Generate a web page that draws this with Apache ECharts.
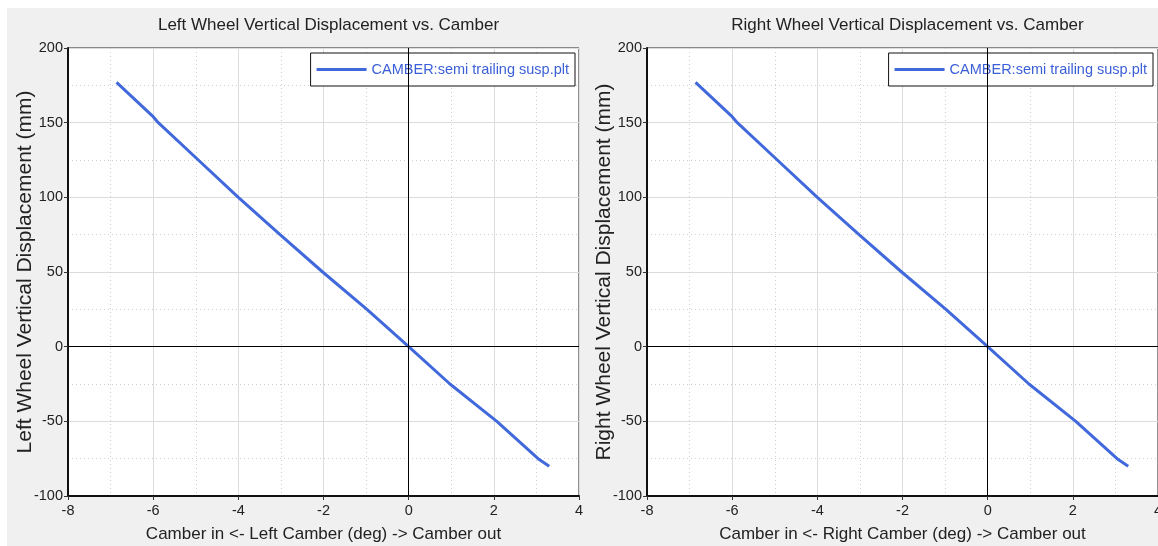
<!DOCTYPE html>
<html>
<head>
<meta charset="utf-8">
<script src="https://cdn.jsdelivr.net/npm/echarts@6/dist/echarts.min.js"></script>
<style>
  html, body { margin: 0; padding: 0; background: #fff; overflow: hidden; }
  #chart { width: 1158px; height: 546px; }
</style>
</head>
<body>
<div id="chart"></div>
<script>
// camber (deg) vs vertical displacement (mm)
const camberLeft = [-6.86, -6.0, -5.88, -4.94, -4.0, -3.02, -2.02, -0.98, 0.0, 0.97, 2.07, 3.04, 3.30]
const dispLeft = [177, 154, 150, 125, 100, 75, 50, 25, 0, -25, -50, -75, -80]
const camberRight = [-6.86, -6.0, -5.88, -4.94, -4.0, -3.02, -2.02, -0.98, 0.0, 0.97, 2.07, 3.04, 3.30]
const dispRight = [177, 154, 150, 125, 100, 75, 50, 25, 0, -25, -50, -75, -80]

const titles = ['Left Wheel Vertical Displacement vs. Camber', 'Right Wheel Vertical Displacement vs. Camber']
const yNames = ['Left Wheel Vertical Displacement (mm)', 'Right Wheel Vertical Displacement (mm)']
const xNames = ['Camber in <- Left Camber (deg) -> Camber out', 'Camber in <- Right Camber (deg) -> Camber out']
const seriesName = 'CAMBER:semi trailing susp.plt'

const FONT = "'Liberation Sans', Arial, sans-serif"
const LINE_COLOR = '#4169dc'

const chart = echarts.init(document.getElementById('chart'))

// plot boxes: left panel 68..579, right panel 647..1158
const panels = [
  { left: 68, right: 579, x: camberLeft, y: dispLeft, legendRight: 583 },
  { left: 647, right: 0, x: camberRight, y: dispRight, legendRight: 5 }
]

const zip = (xs, ys) => xs.map((v, i) => [v, ys[i]])

const option = {
  animation: false,
  backgroundColor: '#fff',
  graphic: [{
    type: 'rect', z: -10, silent: true,
    shape: { x: 7, y: 8, width: 1151, height: 538 },
    style: { fill: '#f0f0f0' }
  }],
  title: panels.map((p, i) => ({
    text: titles[i],
    left: p.left + 255.5, top: 12, textAlign: 'center',
    textStyle: { fontFamily: FONT, fontSize: 17, fontWeight: 'normal', color: '#222' }
  })),
  legend: panels.map((p, i) => ({
    data: [seriesName + (i ? ' ' : '')],
    formatter: () => seriesName,
    right: p.legendRight,
    top: 53,
    orient: 'horizontal',
    backgroundColor: '#fff',
    borderColor: '#111',
    borderWidth: 1,
    borderRadius: 0,
    padding: [9, 6, 9, 6],
    itemWidth: 50, itemHeight: 3,
    itemGap: 6,
    icon: 'rect',
    textStyle: { fontFamily: FONT, fontSize: 14.5, color: '#3b5fd6' }
  })),
  grid: panels.map(p => ({
    left: p.left, right: p.right, top: 48, bottom: 50,
    outerBoundsMode: 'none',
    containLabel: false,
    show: true, backgroundColor: '#fff', borderColor: '#222', borderWidth: 1
  })),
  xAxis: panels.map((p, i) => ({
    type: 'value', gridIndex: i,
    min: -8, max: 4, interval: 2,
    name: xNames[i], nameLocation: 'middle', nameGap: 30,
    nameMoveOverlap: false,
    nameTextStyle: { fontFamily: FONT, fontSize: 17, color: '#222' },
    axisLine: { onZero: false, lineStyle: { color: '#111', width: 2 } },
    axisTick: { show: true, length: 4, lineStyle: { color: '#333' } },
    axisLabel: { fontFamily: FONT, fontSize: 14.5, color: '#222', margin: 7 },
    splitLine: { show: true, lineStyle: { color: '#dcdcdc', width: 1 } },
    minorTick: { show: false, splitNumber: 2 },
    minorSplitLine: { show: true, lineStyle: { color: '#cfcfcf', type: [1, 3], width: 1 } }
  })),
  yAxis: panels.map((p, i) => ({
    type: 'value', gridIndex: i,
    min: -100, max: 200, interval: 50,
    name: yNames[i], nameLocation: 'middle', nameGap: 32,
    nameMoveOverlap: false,
    nameTextStyle: { fontFamily: FONT, fontSize: 21, color: '#222' },
    axisLine: { onZero: false, lineStyle: { color: '#111', width: 2 } },
    axisTick: { show: true, length: 4, lineStyle: { color: '#333' } },
    axisLabel: { fontFamily: FONT, fontSize: 14.5, color: '#222', margin: 5 },
    splitLine: { show: true, lineStyle: { color: '#dcdcdc', width: 1 } },
    minorTick: { show: false, splitNumber: 2 },
    minorSplitLine: { show: true, lineStyle: { color: '#cfcfcf', type: [1, 3], width: 1 } }
  })),
  series: panels.map((p, i) => ({
    name: seriesName + (i ? ' ' : ''),
    type: 'line',
    xAxisIndex: i, yAxisIndex: i,
    data: zip(p.x, p.y),
    showSymbol: false,
    smooth: false,
    lineStyle: { color: LINE_COLOR, width: 3 },
    itemStyle: { color: LINE_COLOR },
    markLine: {
      silent: true, symbol: 'none', label: { show: false },
      lineStyle: { color: '#000', width: 1, type: 'solid' },
      emphasis: { disabled: true },
      data: [{ xAxis: 0 }, { yAxis: 0 }]
    },
    z: 3
  }))
}

chart.setOption(option)
</script>
</body>
</html>
